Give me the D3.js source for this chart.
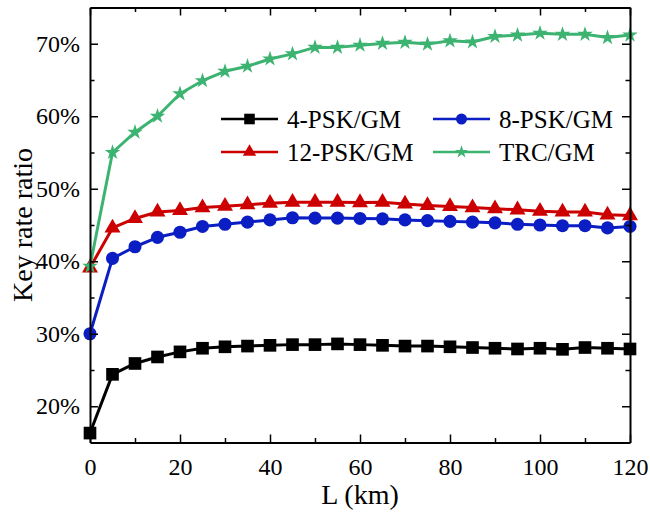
<!DOCTYPE html>
<html>
<head>
<meta charset="utf-8">
<script src="https://cdn.jsdelivr.net/npm/d3@7"></script>
<style>
  body { margin: 0; background: #fff; }
  svg { display: block; }
</style>
</head>
<body>
<div id="chart"></div>
<script>
// distance L (km)
const distances = [0, 5, 10, 15, 20, 25, 30, 35, 40, 45, 50, 55, 60, 65, 70, 75, 80, 85, 90, 95, 100, 105, 110, 115, 120];

// key rate ratio (%)
const psk4 = [16.3, 24.4, 25.9, 26.8, 27.5, 28.0, 28.2, 28.3, 28.4, 28.5, 28.5, 28.6, 28.5, 28.4, 28.3, 28.3, 28.2, 28.1, 28.0, 27.9, 28.0, 27.85, 28.1, 28.0, 27.9];
const psk8 = [30.0, 40.4, 42.0, 43.3, 44.0, 44.8, 45.1, 45.4, 45.7, 46.0, 45.95, 45.95, 45.9, 45.85, 45.7, 45.6, 45.5, 45.4, 45.3, 45.1, 45.0, 44.9, 44.9, 44.6, 44.8];
const psk12 = [39.1, 44.6, 45.9, 46.8, 47.0, 47.4, 47.6, 47.8, 48.0, 48.15, 48.15, 48.15, 48.1, 48.15, 47.9, 47.7, 47.55, 47.4, 47.25, 47.1, 46.9, 46.8, 46.8, 46.4, 46.3];
const trc = [39.3, 55.0, 57.8, 60.0, 63.1, 64.9, 66.2, 66.9, 67.9, 68.6, 69.5, 69.5, 69.8, 70.05, 70.2, 69.95, 70.4, 70.25, 71.0, 71.2, 71.45, 71.3, 71.3, 70.85, 71.2];

const seriesNames = ["4-PSK/GM", "8-PSK/GM", "12-PSK/GM", "TRC/GM"];

const xTicks = [0, 20, 40, 60, 80, 100, 120];
const yTicks = [20, 30, 40, 50, 60, 70];

const series = [
    { name: seriesNames[0], values: psk4, color: "#000000", symbol: d3.symbolSquare, size: 160 },
    { name: seriesNames[1], values: psk8, color: "#0a1ec4", symbol: d3.symbolCircle, size: 135 },
    { name: seriesNames[2], values: psk12, color: "#cc0000", symbol: d3.symbolTriangle, size: 110 },
    { name: seriesNames[3], values: trc, color: "#3cb371", symbol: d3.symbolStar, size: 75 }
];

const width = 650;
const height = 521;
const margin = { top: 7.5, right: 20, bottom: 78.5, left: 90 };
const innerW = width - margin.left - margin.right;
const innerH = height - margin.top - margin.bottom;
const serif = "Liberation Serif";

const svg = d3.select("#chart")
    .append("svg")
    .attr("width", width)
    .attr("height", height);

const g = svg.append("g")
    .attr("transform", `translate(${margin.left},${margin.top})`);

const xScale = d3.scaleLinear().domain([0, 120]).range([0, innerW]);
const yScale = d3.scaleLinear().domain([15, 75]).range([innerH, 0]);

// lines + markers
const line = d3.line()
    .x((d, i) => xScale(distances[i]))
    .y(d => yScale(d));

series.forEach(s => {
    g.append("path")
        .datum(s.values)
        .attr("fill", "none")
        .attr("stroke", s.color)
        .attr("stroke-width", 3)
        .attr("stroke-linejoin", "round")
        .attr("d", line);

    g.selectAll(null)
        .data(s.values)
        .enter()
        .append("path")
        .attr("transform", (d, i) => `translate(${xScale(distances[i])},${yScale(d)})`)
        .attr("d", d3.symbol().type(s.symbol).size(s.size))
        .attr("fill", s.color);
});

// axes with inward ticks on all four sides
const xMinor = d3.range(10, 120, 20);
const yMinor = d3.range(25, 75, 10);

function drawAxis(axis, transform, majorVals, minorVals, fmt, pad) {
    const major = g.append("g")
        .attr("transform", transform)
        .call(axis.tickValues(majorVals).tickSizeInner(-8).tickSizeOuter(0).tickPadding(pad || 0)
            .tickFormat(fmt || ""));
    major.attr("font-family", serif).attr("font-size", 24);
    major.select(".domain").attr("stroke", "#000").attr("stroke-width", 2);
    major.selectAll(".tick line").attr("stroke", "#000").attr("stroke-width", 1.5);
    major.selectAll("text")
        .attr("font-family", serif)
        .attr("font-size", 24)
        .attr("fill", "#000");

    const minor = g.append("g")
        .attr("transform", transform)
        .call(axis.tickValues(minorVals).tickSizeInner(-4.5).tickSizeOuter(0).tickFormat(""));
    minor.select(".domain").remove();
    minor.selectAll(".tick line").attr("stroke", "#000").attr("stroke-width", 1.5);
    return major;
}

drawAxis(d3.axisBottom(xScale), `translate(0,${innerH})`, xTicks, xMinor, d => d, 15);
drawAxis(d3.axisTop(xScale), "translate(0,0)", xTicks, xMinor, null);
drawAxis(d3.axisLeft(yScale), "translate(0,0)", yTicks, yMinor, d => d + "%", 10);
drawAxis(d3.axisRight(yScale), `translate(${innerW},0)`, yTicks, yMinor, null);

// axis titles
svg.append("text")
    .attr("x", margin.left + innerW / 2)
    .attr("y", 504)
    .attr("text-anchor", "middle")
    .attr("font-family", serif)
    .attr("font-size", 28)
    .text("L (km)");

svg.append("text")
    .attr("transform", "translate(32,225) rotate(-90)")
    .attr("text-anchor", "middle")
    .attr("font-family", serif)
    .attr("font-size", 28)
    .text("Key rate ratio");

// legend
const legendPos = [
    { x: 221, y: 119 },
    { x: 433, y: 119 },
    { x: 221, y: 152 },
    { x: 433, y: 152 }
];

series.forEach((s, i) => {
    const p = legendPos[i];
    const lg = svg.append("g").attr("transform", `translate(${p.x},${p.y})`);
    lg.append("line")
        .attr("x1", 0).attr("x2", 57)
        .attr("y1", 0).attr("y2", 0)
        .attr("stroke", s.color)
        .attr("stroke-width", 2.5);
    lg.append("path")
        .attr("transform", "translate(28.5,0)")
        .attr("d", d3.symbol().type(s.symbol).size(s.size * 0.7))
        .attr("fill", s.color);
    lg.append("text")
        .attr("x", 66)
        .attr("y", 9)
        .attr("font-family", serif)
        .attr("font-size", 25)
        .text(s.name);
});
</script>
</body>
</html>
